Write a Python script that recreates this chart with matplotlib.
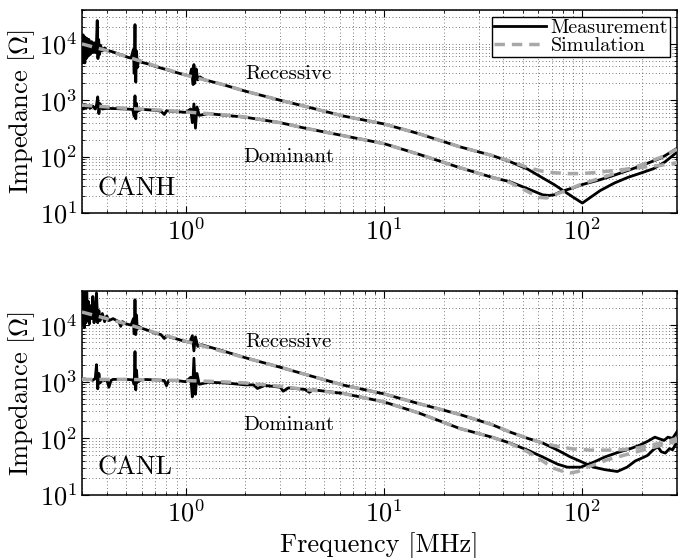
import numpy as np
import matplotlib
matplotlib.use("Agg")
import matplotlib.pyplot as plt
from matplotlib.ticker import LogLocator, NullFormatter

plt.rcParams['font.family'] = 'serif'
plt.rcParams['font.serif'] = ['cmr10']
plt.rcParams['mathtext.fontset'] = 'cm'
plt.rcParams['axes.formatter.use_mathtext'] = True

# ---------------- CANH ----------------
h_rec_meas_f = [0.30, 0.302, 0.304, 0.306, 0.308, 0.31, 0.312, 0.315, 0.318, 0.321, 0.325, 0.33, 0.335, 0.34,
                0.345, 0.35, 0.355, 0.358, 0.361, 0.364, 0.368, 0.372, 0.38, 0.39, 0.40, 0.42, 0.45, 0.48,
                0.51, 0.53, 0.545, 0.55, 0.555, 0.56, 0.565, 0.57, 0.58, 0.60, 0.65, 0.70, 0.80, 0.90, 1.00,
                1.05, 1.07, 1.09, 1.10, 1.11, 1.13, 1.15, 1.18, 1.25, 1.5, 2.0, 3.0, 4.0, 6.25, 10, 15, 24,
                35, 43, 53, 63, 72, 80, 90, 100, 110, 123, 145, 170, 200, 228, 260, 300]
h_rec_meas_z = [1.4e4, 4.6e3, 1.45e4, 5e3, 1.35e4, 4.6e3, 1.3e4, 5.5e3, 1.25e4, 6e3, 1.2e4, 6.5e3, 1.1e4, 7e3,
                1.05e4, 7e3, 1.1e4, 2.6e4, 5.5e3, 1.2e4, 6.5e3, 9.5e3, 7.5e3, 8.5e3, 7.6e3, 7.4e3, 6.8e3, 6.3e3,
                5.8e3, 5.6e3, 8e3, 3e3, 2.2e4, 2.1e3, 7.5e3, 3.8e3, 5.2e3, 4.7e3, 4.4e3, 4.0e3, 3.5e3, 3.1e3, 2.8e3,
                2.7e3, 3.6e3, 1.9e3, 4.3e3, 2.0e3, 3.6e3, 2.3e3, 2.6e3, 2.3e3, 1.95e3, 1.45e3, 1.0e3, 780, 525, 380, 255, 150,
                105, 82, 60, 42, 32, 25, 19, 15, 19, 25, 34, 43, 52, 61, 80, 120]

h_rec_sim_f = [0.3, 0.4, 0.5, 0.7, 1.0, 1.5, 2, 3, 4, 6.25, 10, 15, 24, 35, 43, 53, 63, 71, 85, 98, 115,
               134, 160, 181, 210, 247, 300]
h_rec_sim_z = [1.0e4, 7.6e3, 6.0e3, 4.1e3, 2.8e3, 1.95e3, 1.45e3, 1.0e3, 780, 525, 380, 255, 150, 105, 84, 64,
               55, 52, 50, 50, 52, 55, 59, 62, 66, 70, 78]

h_dom_meas_f = [0.30, 0.305, 0.31, 0.315, 0.32, 0.33, 0.34, 0.35, 0.355, 0.36, 0.365, 0.37, 0.38, 0.40, 0.45,
                0.50, 0.54, 0.55, 0.555, 0.56, 0.565, 0.57, 0.60, 0.70, 0.75, 0.78, 0.80, 0.90, 1.00, 1.06,
                1.08, 1.10, 1.12, 1.14, 1.17, 1.3, 1.6, 2, 3, 4, 6.25, 10, 15, 24, 35, 43, 53, 63, 68, 72,
                78, 90, 100, 120, 140, 170, 200, 250, 300]
h_dom_meas_z = [820, 700, 840, 720, 800, 720, 790, 700, 820, 1.15e3, 580, 870, 700, 720, 710,
                700, 690, 520, 1.2e3, 470, 880, 640, 690, 665, 640, 560, 650, 630, 610, 700,
                400, 860, 320, 760, 540, 580, 540, 500, 400, 320, 235, 170, 110, 64, 43, 36, 27, 21, 20.5, 21,
                24, 28, 32, 38, 45, 57, 70, 95, 140]

h_dom_sim_f = [0.3, 0.5, 0.8, 1, 1.5, 2, 3, 4, 6.25, 10, 15, 24, 35, 43, 53, 60, 66, 75, 87, 100, 125,
               150, 200, 250, 300]
h_dom_sim_z = [820, 720, 660, 620, 560, 505, 400, 320, 235, 170, 110, 64, 43, 35, 24, 19, 18.5, 22, 27, 33, 42,
               52, 72, 98, 135]

# ---------------- CANL ----------------
l_rec_meas_f = [0.30, 0.302, 0.305, 0.308, 0.311, 0.314, 0.317, 0.32, 0.323, 0.327, 0.33, 0.335, 0.34, 0.345,
                0.35, 0.355, 0.36, 0.365, 0.37, 0.38, 0.39, 0.40, 0.41, 0.43, 0.46, 0.47, 0.48, 0.5, 0.53,
                0.545, 0.55, 0.555, 0.56, 0.565, 0.57, 0.58, 0.6, 0.65, 0.7, 0.75, 0.78, 0.8, 0.85, 0.9, 1.0,
                1.05, 1.08, 1.1, 1.12, 1.15, 1.2, 1.5, 2, 3, 4, 6.25, 10, 15, 24, 35, 43, 53, 63, 75, 87, 100,
                114, 130, 150, 168, 185, 200, 213, 228, 240, 250, 262, 275, 285, 300]
l_rec_meas_z = [4.5e4, 1.0e4, 3.8e4, 9e3, 3.0e4, 1.1e4, 4.2e4, 1.2e4, 2.6e4, 1.05e4, 2.2e4, 1.3e4, 3.2e4, 1.1e4,
                1.9e4, 3.7e4, 1.1e4, 1.8e4, 1.2e4, 1.6e4, 1.15e4, 1.45e4, 1.2e4, 1.3e4, 1.15e4, 9.5e3, 1.15e4, 1.05e4, 1.0e4,
                1.3e4, 7e3, 2.8e4, 6.8e3, 1.5e4, 8.5e3, 9.5e3, 8.8e3, 8e3, 7.2e3, 6.8e3, 5.8e3, 6.5e3, 6e3, 5.7e3, 5.1e3,
                5.0e3, 6.5e3, 3.5e3, 6.2e3, 4.2e3, 4.5e3, 3.6e3, 2.65e3, 1.8e3, 1.35e3, 870, 610, 410, 265, 175, 130, 100, 83, 62, 47, 38,
                31, 28, 26, 31, 40, 45, 50, 63, 71, 58, 55, 66, 63, 87]

l_rec_sim_f = [0.3, 0.4, 0.5, 0.7, 1.0, 1.5, 2, 3, 4, 6.25, 10, 15, 24, 35, 43, 53, 63, 75, 90, 110, 134,
               160, 190, 220, 260, 300]
l_rec_sim_z = [1.7e4, 1.3e4, 1.05e4, 7.4e3, 5.2e3, 3.5e3, 2.65e3, 1.8e3, 1.35e3, 870, 610, 410, 265, 175, 130, 100,
               83, 72, 65, 62, 62, 63, 68, 76, 85, 100]

l_dom_meas_f = [0.30, 0.31, 0.32, 0.33, 0.34, 0.35, 0.355, 0.36, 0.365, 0.37, 0.38, 0.39, 0.40, 0.41, 0.42,
                0.43, 0.45, 0.5, 0.54, 0.55, 0.555, 0.56, 0.565, 0.57, 0.6, 0.7, 0.78, 0.8, 0.82, 0.9, 1.0,
                1.06, 1.08, 1.1, 1.12, 1.14, 1.17, 1.3, 1.6, 2, 2.2, 2.3, 2.5, 3.0, 3.1, 3.3, 4.0, 4.2, 4.4,
                6.25, 10, 15, 24, 35, 43, 53, 63, 75, 84, 98, 114, 130, 150, 175, 195, 215, 232, 245, 258,
                270, 285, 300]
l_dom_meas_z = [1.1e3, 1.12e3, 1.08e3, 1.1e3, 1.06e3, 1.15e3, 2.0e3, 750, 1.4e3, 950, 1.1e3, 1.05e3, 1.1e3, 800, 1.05e3,
                1.1e3, 1.1e3, 1.1e3, 1.08e3, 900, 3.4e3, 720, 1.6e3, 980, 1.1e3, 1.08e3, 1.05e3, 850, 1.05e3, 1.05e3, 1.0e3,
                1.2e3, 540, 2.6e3, 600, 1.4e3, 900, 980, 950, 880, 880, 760, 860, 800, 680, 780, 730, 650, 720,
                620, 440, 280, 150, 105, 83, 62, 47, 35, 31, 31, 38, 47, 56, 66, 76, 90, 105, 98, 92,
                105, 100, 131]

l_dom_sim_f = [0.3, 0.5, 1, 1.5, 2, 3, 4, 6.25, 10, 15, 24, 35, 43, 53, 63, 71, 80, 87, 95, 106, 134, 181,
               247, 300]
l_dom_sim_z = [1.1e3, 1.1e3, 1.05e3, 1.0e3, 950, 830, 730, 620, 440, 280, 150, 105, 82, 58, 40, 30, 26, 24.5, 26,
               31, 42, 56, 75, 90]

panels = [
    ("CANH", h_rec_meas_f, h_rec_meas_z, h_rec_sim_f, h_rec_sim_z,
     h_dom_meas_f, h_dom_meas_z, h_dom_sim_f, h_dom_sim_z, (3.3, 2950), (3.3, 100), (0.36, 27)),
    ("CANL", l_rec_meas_f, l_rec_meas_z, l_rec_sim_f, l_rec_sim_z,
     l_dom_meas_f, l_dom_meas_z, l_dom_sim_f, l_dom_sim_z, (3.3, 5100), (3.3, 173), (0.36, 30)),
]

W, H = 686, 558
fig = plt.figure(figsize=(W / 100, H / 100), dpi=100)
rects = [(82, 10, 677, 213), (82, 291, 677, 495)]

sim_color = '0.66'
for i, (name, rmf, rmz, rsf, rsz, dmf, dmz, dsf, dsz, rpos, dpos, npos) in enumerate(panels):
    x0, y0, x1, y1 = rects[i]
    ax = fig.add_axes([x0 / W, 1 - y1 / H, (x1 - x0) / W, (y1 - y0) / H])
    ax.plot(rmf, rmz, color='k', lw=2.0, zorder=3, label='Measurement')
    ax.plot(dmf, dmz, color='k', lw=2.0, zorder=3)
    ax.plot(rsf, rsz, color=sim_color, lw=2.5, ls=(0, (3, 2)), zorder=4, label='Simulation')
    ax.plot(dsf, dsz, color=sim_color, lw=2.5, ls=(0, (3, 2)), zorder=4)
    ax.set_xscale('log')
    ax.set_yscale('log')
    ax.set_xlim(0.3, 300)
    ax.set_ylim(10, 4e4)
    for a in (ax.xaxis, ax.yaxis):
        a.set_major_locator(LogLocator(base=10, numticks=20))
        a.set_minor_locator(LogLocator(base=10, subs=np.arange(2, 10), numticks=100))
        a.set_minor_formatter(NullFormatter())
    ax.grid(True, which='both', ls=(0, (1, 3)), color='0.3', lw=0.6)
    ax.tick_params(which='both', direction='in', top=True, right=True, labelsize=19)
    ax.tick_params(which='major', length=5, width=0.8)
    ax.tick_params(which='minor', length=2.5, width=0.6)
    for s in ax.spines.values():
        s.set_linewidth(1.1)
    ax.set_ylabel(r'Impedance [$\Omega$]', fontsize=19, labelpad=1)
    ax.text(rpos[0], rpos[1], 'Recessive', fontsize=15, ha='center', va='center')
    ax.text(dpos[0], dpos[1], 'Dominant', fontsize=15, ha='center', va='center')
    ax.text(npos[0], npos[1], name, fontsize=19, ha='left', va='center')
    if i == 0:
        leg = ax.legend(loc='upper right', fontsize=14.5, fancybox=False, edgecolor='k', framealpha=1,
                        borderpad=0.1, labelspacing=0.0, handlelength=2.6, handletextpad=0.2,
                        borderaxespad=0.35)
        leg.get_frame().set_linewidth(1.0)
    else:
        ax.set_xlabel('Frequency [MHz]', fontsize=19)

fig.savefig('out.png', dpi=100)
